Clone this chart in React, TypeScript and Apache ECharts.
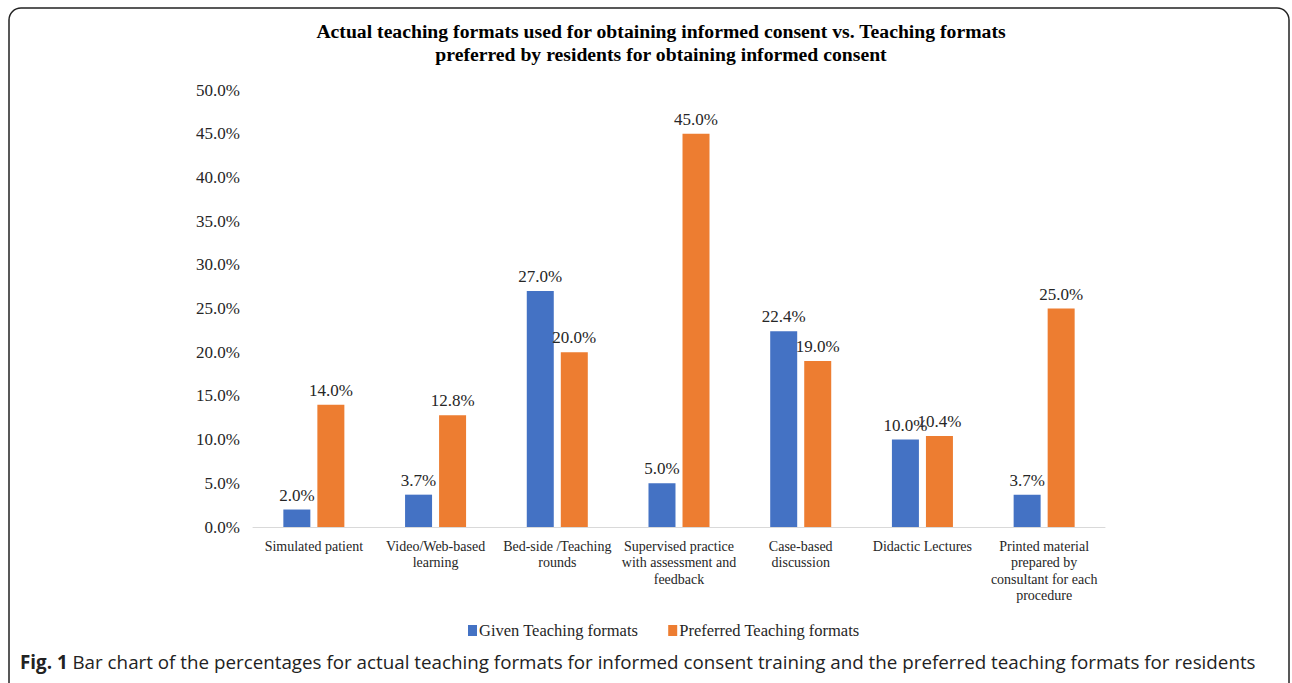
import React, { useEffect, useRef } from "react";
import * as echarts from "echarts";

const categories = [
  "Simulated patient",
  "Video/Web-based\nlearning",
  "Bed-side /Teaching\nrounds",
  "Supervised practice\nwith assessment and\nfeedback",
  "Case-based\ndiscussion",
  "Didactic Lectures",
  "Printed material\nprepared by\nconsultant for each\nprocedure",
];
const givenValues = [2.0, 3.7, 27.0, 5.0, 22.4, 10.0, 3.7];
const preferredValues = [14.0, 12.8, 20.0, 45.0, 19.0, 10.4, 25.0];
const seriesNames = ["Given Teaching formats", "Preferred Teaching formats"];
const titleText =
  "Actual teaching formats used for obtaining informed consent vs. Teaching formats\npreferred by residents for obtaining informed consent";
const captionBold = "Fig. 1";
const captionText =
  " Bar chart of the percentages for actual teaching formats for informed consent training and the preferred teaching formats for residents";

const serif = "'Liberation Serif', 'Times New Roman', serif";

export default function App() {
  const ref = useRef<HTMLDivElement>(null);
  useEffect(() => {
    if (!ref.current) return;
    const chart = echarts.init(ref.current, null, { renderer: "svg" });
    const labelStyle = {
      show: true,
      position: "top" as const,
      distance: 6,
      fontFamily: serif,
      fontSize: 17,
      color: "#262626",
      formatter: (p: any) => Number(p.value).toFixed(1) + "%",
    };
    chart.setOption({
      animation: false,
      backgroundColor: "#ffffff",
      title: {
        text: titleText,
        left: 656,
        textAlign: "center",
        top: 14,
        textStyle: {
          fontFamily: serif,
          fontSize: 19.7,
          fontWeight: "bold",
          color: "#000000",
          lineHeight: 23,
        },
      },
      legend: {
        data: seriesNames,
        left: 463,
        top: 617,
        itemWidth: 9,
        itemHeight: 11,
        itemGap: 30,
        icon: "rect",
        textStyle: { fontFamily: serif, fontSize: 16.5, color: "#262626", padding: [0, 0, 0, -3] },
      },
      grid: { left: 253, right: 187, top: 90, bottom: 156, containLabel: false },
      xAxis: {
        type: "category",
        data: categories,
        axisLine: { lineStyle: { color: "#d9d9d9", width: 1 } },
        axisTick: { show: false },
        axisLabel: {
          fontFamily: serif,
          fontSize: 14,
          color: "#262626",
          lineHeight: 16.5,
          margin: 11,
          interval: 0,
        },
      },
      yAxis: {
        type: "value",
        min: 0,
        max: 50,
        interval: 5,
        splitLine: { show: false },
        axisLine: { show: false },
        axisTick: { show: false },
        axisLabel: {
          fontFamily: serif,
          fontSize: 17,
          color: "#262626",
          margin: 13,
          formatter: (v: number) => v.toFixed(1) + "%",
        },
      },
      series: [
        {
          name: seriesNames[0],
          type: "bar",
          data: givenValues,
          barWidth: 27,
          barGap: "26%",
          itemStyle: { color: "#4472c4" },
          label: labelStyle,
        },
        {
          name: seriesNames[1],
          type: "bar",
          data: preferredValues,
          barWidth: 27,
          barGap: "26%",
          itemStyle: { color: "#ed7d31" },
          label: labelStyle,
        },
      ],
      graphic: [
        {
          type: "rect",
          shape: { x: 9, y: 8, width: 1280, height: 720, r: 12 },
          style: { fill: "none", stroke: "#222222", lineWidth: 1.5 },
          silent: true,
        },
        {
          type: "text",
          left: 20,
          top: 652,
          style: {
            text: "{b|" + captionBold + "}{n|" + captionText + "}",
            rich: {
              b: { fontFamily: "'Open Sans', sans-serif", fontSize: 18.8, fontWeight: "bold", fill: "#222222" },
              n: { fontFamily: "'Open Sans', sans-serif", fontSize: 18.8, fill: "#222222" },
            },
          },
        },
      ],
    });
    return () => chart.dispose();
  }, []);
  return (
    <div
      ref={ref}
      style={{ position: "fixed", left: 0, top: 0, width: 1292, height: 683 }}
    />
  );
}
